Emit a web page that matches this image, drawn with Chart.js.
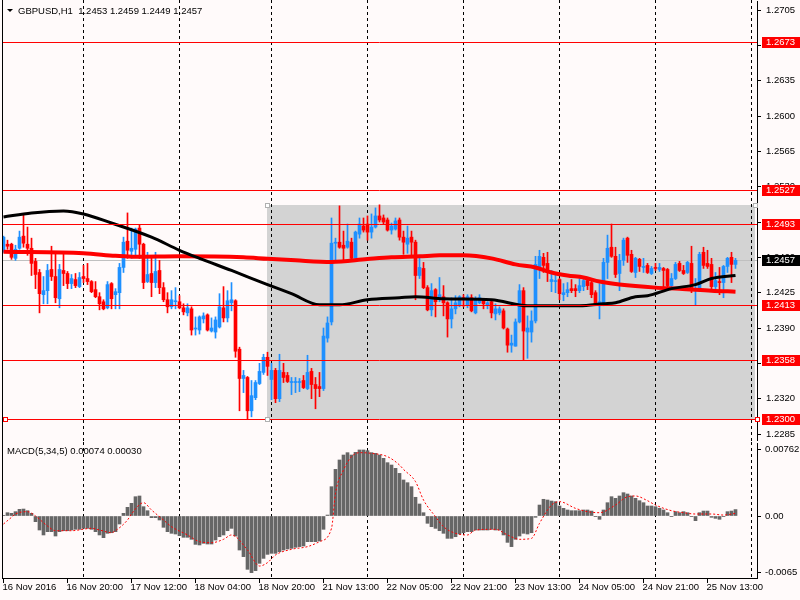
<!DOCTYPE html>
<html>
<head>
<meta charset="utf-8">
<script src="https://cdn.jsdelivr.net/npm/chart.js@4.4.1/dist/chart.umd.min.js"></script>
<style>
  html, body { margin: 0; padding: 0; background: #fffafa; }
  #wrap { position: relative; width: 800px; height: 600px; overflow: hidden; background: #fffafa; }
  #main { position: absolute; left: 0; top: 0; }
  #macd { position: absolute; left: 0; top: 442px; }
</style>
</head>
<body>
<div id="wrap">
  <canvas id="main" width="800" height="442"></canvas>
  <canvas id="macd" width="800" height="158"></canvas>
</div>
<script>
// GBPUSD H1, bar 0 = 16 Nov 2016 04:00 ... bar 183 = 25 Nov 20:00
const opens = [1.2466,1.2473,1.2473,1.2459,1.2469,1.2481,1.2473,1.2469,1.2456,1.2445,
  1.2423,1.2427,1.2448,1.2441,1.2419,1.2447,1.2444,1.2434,1.2438,1.2431,
  1.2441,1.2439,1.2436,1.2428,1.2421,1.2416,1.2410,1.2434,1.2423,1.2425,
  1.2450,1.2476,1.2466,1.2468,1.2489,1.2473,1.2436,1.2444,1.2435,1.2447,
  1.2430,1.2418,1.2411,1.2416,1.2416,1.2410,1.2405,1.2409,1.2389,1.2388,
  1.2399,1.2403,1.2387,1.2386,1.2391,1.2410,1.2400,1.2415,1.2417,1.2369,
  1.2340,1.2341,1.2308,1.2321,1.2335,1.2346,1.2361,1.2339,1.2348,1.2320,
  1.2346,1.2343,1.2336,1.2336,1.2336,1.2338,1.2330,1.2347,1.2334,1.2332,
  1.2330,1.2380,1.2396,1.2474,1.2475,1.2472,1.2470,1.2475,1.2459,1.2483,
  1.2491,1.2493,1.2485,1.2490,1.2501,1.2499,1.2497,1.2487,1.2488,1.2497,
  1.2480,1.2473,1.2480,1.2475,1.2442,1.2449,1.2430,1.2408,1.2428,1.2418,
  1.2421,1.2415,1.2399,1.2409,1.2412,1.2420,1.2413,1.2420,1.2405,1.2415,
  1.2419,1.2413,1.2416,1.2404,1.2405,1.2407,1.2389,1.2373,1.2372,1.2396,
  1.2427,1.2386,1.2386,1.2397,1.2450,1.2460,1.2454,1.2436,1.2436,1.2438,
  1.2423,1.2425,1.2429,1.2429,1.2427,1.2431,1.2437,1.2435,1.2425,1.2412,
  1.2413,1.2455,1.2470,1.2461,1.2444,1.2457,1.2479,1.2463,1.2445,1.2458,
  1.2450,1.2452,1.2444,1.2450,1.2448,1.2449,1.2448,1.2432,1.2439,1.2454,
  1.2447,1.2445,1.2454,1.2427,1.2427,1.2465,1.2454,1.2453,1.2431,1.2436,
  1.2435,1.2451,1.2460,1.2453];
const highs = [1.2481,1.2477,1.2474,1.2472,1.2486,1.2503,1.2490,1.2479,1.2459,1.2448,
  1.2441,1.2453,1.2471,1.2465,1.2453,1.2464,1.2446,1.2443,1.2444,1.2445,
  1.2452,1.2454,1.2437,1.2436,1.2425,1.2418,1.2436,1.2435,1.2429,1.2454,
  1.2480,1.2504,1.2489,1.2489,1.2492,1.2474,1.2465,1.2462,1.2465,1.2457,
  1.2435,1.2425,1.2427,1.2430,1.2422,1.2414,1.2414,1.2411,1.2401,1.2402,
  1.2405,1.2404,1.2400,1.2401,1.2424,1.2431,1.2427,1.2435,1.2418,1.2371,
  1.2348,1.2342,1.2338,1.2338,1.2355,1.2364,1.2366,1.2355,1.2350,1.2364,
  1.2355,1.2346,1.2341,1.2341,1.2340,1.2343,1.2363,1.2350,1.2341,1.2346,
  1.2390,1.2401,1.2499,1.2479,1.2511,1.2486,1.2493,1.2479,1.2486,1.2499,
  1.2499,1.2501,1.2503,1.2509,1.2512,1.2502,1.2499,1.2494,1.2499,1.2499,
  1.2486,1.2491,1.2486,1.2477,1.2460,1.2455,1.2432,1.2434,1.2429,1.2440,
  1.2432,1.2416,1.2420,1.2422,1.2422,1.2423,1.2423,1.2423,1.2421,1.2423,
  1.2419,1.2416,1.2417,1.2414,1.2411,1.2409,1.2390,1.2383,1.2399,1.2433,
  1.2430,1.2402,1.2407,1.2461,1.2467,1.2464,1.2465,1.2447,1.2443,1.2439,
  1.2434,1.2435,1.2438,1.2433,1.2439,1.2440,1.2439,1.2437,1.2427,1.2434,
  1.2459,1.2482,1.2493,1.2470,1.2463,1.2479,1.2480,1.2467,1.2460,1.2459,
  1.2459,1.2454,1.2451,1.2454,1.2454,1.2450,1.2449,1.2444,1.2455,1.2456,
  1.2452,1.2456,1.2471,1.2439,1.2465,1.2470,1.2467,1.2459,1.2445,1.2450,
  1.2452,1.2460,1.2465,1.2459];
const lows = [1.2465,1.2468,1.2458,1.2457,1.2468,1.2470,1.2462,1.2442,1.2429,1.2405,
  1.2414,1.2414,1.2437,1.2415,1.2410,1.2432,1.2429,1.2429,1.2430,1.2430,
  1.2435,1.2433,1.2425,1.2420,1.2408,1.2408,1.2409,1.2409,1.2409,1.2409,
  1.2445,1.2459,1.2459,1.2462,1.2459,1.2429,1.2435,1.2421,1.2430,1.2424,
  1.2416,1.2405,1.2409,1.2409,1.2409,1.2403,1.2402,1.2383,1.2383,1.2384,
  1.2395,1.2387,1.2386,1.2380,1.2390,1.2396,1.2396,1.2407,1.2361,1.2308,
  1.2326,1.2300,1.2302,1.2319,1.2334,1.2344,1.2343,1.2319,1.2316,1.2317,
  1.2336,1.2336,1.2324,1.2326,1.2327,1.2330,1.2329,1.2320,1.2310,1.2322,
  1.2328,1.2376,1.2393,1.2455,1.2469,1.2456,1.2469,1.2457,1.2458,1.2479,
  1.2485,1.2477,1.2479,1.2489,1.2495,1.2493,1.2486,1.2483,1.2487,1.2477,
  1.2463,1.2464,1.2462,1.2418,1.2439,1.2429,1.2407,1.2402,1.2401,1.2416,
  1.2402,1.2381,1.2390,1.2404,1.2411,1.2411,1.2410,1.2406,1.2404,1.2414,
  1.2409,1.2409,1.2400,1.2398,1.2403,1.2389,1.2366,1.2366,1.2372,1.2395,
  1.2358,1.2360,1.2376,1.2395,1.2439,1.2445,1.2436,1.2426,1.2425,1.2418,
  1.2417,1.2421,1.2425,1.2421,1.2425,1.2427,1.2428,1.2420,1.2412,1.2399,
  1.2412,1.2439,1.2460,1.2440,1.2427,1.2452,1.2455,1.2445,1.2440,1.2446,
  1.2445,1.2444,1.2443,1.2447,1.2446,1.2431,1.2430,1.2430,1.2438,1.2446,
  1.2443,1.2444,1.2425,1.2413,1.2426,1.2449,1.2449,1.2429,1.2425,1.2423,
  1.2420,1.2445,1.2435,1.2449];
const closes = [1.2480,1.2471,1.2460,1.2468,1.2480,1.2474,1.2469,1.2454,1.2443,1.2424,
  1.2427,1.2447,1.2441,1.2420,1.2448,1.2444,1.2434,1.2439,1.2432,1.2440,
  1.2439,1.2436,1.2426,1.2421,1.2414,1.2409,1.2433,1.2419,1.2426,1.2450,
  1.2475,1.2467,1.2469,1.2488,1.2473,1.2435,1.2443,1.2435,1.2446,1.2430,
  1.2418,1.2411,1.2418,1.2417,1.2410,1.2406,1.2410,1.2388,1.2390,1.2401,
  1.2402,1.2388,1.2390,1.2398,1.2411,1.2400,1.2417,1.2418,1.2367,1.2340,
  1.2343,1.2308,1.2323,1.2336,1.2347,1.2361,1.2352,1.2348,1.2320,1.2348,
  1.2341,1.2337,1.2337,1.2337,1.2337,1.2331,1.2346,1.2334,1.2330,1.2330,
  1.2382,1.2395,1.2474,1.2475,1.2470,1.2469,1.2476,1.2459,1.2485,1.2493,
  1.2487,1.2485,1.2490,1.2501,1.2497,1.2495,1.2487,1.2491,1.2496,1.2480,
  1.2475,1.2479,1.2475,1.2442,1.2450,1.2430,1.2408,1.2427,1.2416,1.2423,
  1.2415,1.2399,1.2409,1.2415,1.2421,1.2418,1.2421,1.2407,1.2419,1.2420,
  1.2414,1.2415,1.2405,1.2409,1.2409,1.2390,1.2373,1.2375,1.2396,1.2427,
  1.2387,1.2390,1.2397,1.2453,1.2461,1.2452,1.2445,1.2438,1.2437,1.2424,
  1.2425,1.2428,1.2427,1.2427,1.2432,1.2437,1.2432,1.2423,1.2413,1.2416,
  1.2455,1.2469,1.2461,1.2443,1.2457,1.2477,1.2462,1.2446,1.2459,1.2451,
  1.2451,1.2445,1.2449,1.2449,1.2450,1.2447,1.2432,1.2439,1.2453,1.2447,
  1.2444,1.2455,1.2427,1.2428,1.2463,1.2452,1.2451,1.2431,1.2437,1.2435,
  1.2451,1.2459,1.2453,1.2457];

// moving averages, read at sample bars
const maRedBars = [0,20,28,33,44,60,66,73,82,91,97,104,109,115,122,128,133,137,141,145,149,154,163,169,177,183];
const maRedValues = [1.24655,1.2464,1.24615,1.24605,1.2461,1.2460,1.24585,1.2457,1.24555,1.24583,1.2460,1.2461,1.2462,1.2462,1.2459,1.2453,1.2450,1.2445,1.2442,1.2440,1.2436,1.2433,1.2430,1.2429,1.2427,1.2426];
const maBlackBars = [0,7,15,20,27,37,44,49,57,66,72,79,84,91,99,103,110,122,131,144,150,153,158,161,167,173,177,183];
const maBlackValues = [1.2500,1.2504,1.2506,1.2503,1.2494,1.2480,1.2467,1.2459,1.2447,1.2433,1.2424,1.2413,1.2413,1.2418,1.2420,1.2421,1.2419,1.2418,1.2412,1.2412,1.2414,1.2415,1.2421,1.2422,1.2429,1.2433,1.2439,1.2442];

// MACD(5,34,5)
const macdHist = [0.00008,0.00038,0.00031,0.00050,0.00077,0.00080,0.00061,0.00031,-0.00065,-0.00161,
  -0.00218,-0.00180,-0.00180,-0.00230,-0.00180,-0.00169,-0.00169,-0.00161,-0.00153,-0.00153,
  -0.00142,-0.00142,-0.00153,-0.00180,-0.00218,-0.00249,-0.00199,-0.00192,-0.00180,-0.00092,
  0.00031,0.00100,0.00146,0.00222,0.00230,0.00107,0.00061,-0.00019,-0.00019,-0.00046,
  -0.00130,-0.00180,-0.00199,-0.00207,-0.00226,-0.00245,-0.00245,-0.00268,-0.00326,-0.00333,
  -0.00314,-0.00322,-0.00322,-0.00276,-0.00238,-0.00218,-0.00169,-0.00142,-0.00230,-0.00391,
  -0.00467,-0.00613,-0.00651,-0.00628,-0.00544,-0.00487,-0.00441,-0.00429,-0.00429,-0.00410,
  -0.00391,-0.00379,-0.00372,-0.00360,-0.00352,-0.00345,-0.00295,-0.00295,-0.00295,-0.00287,
  -0.00153,0.00011,0.00337,0.00536,0.00644,0.00701,0.00728,0.00701,0.00732,0.00759,
  0.00759,0.00751,0.00728,0.00720,0.00701,0.00663,0.00613,0.00586,0.00548,0.00490,
  0.00414,0.00383,0.00337,0.00215,0.00138,0.00038,-0.00084,-0.00123,-0.00142,-0.00169,
  -0.00199,-0.00257,-0.00257,-0.00238,-0.00207,-0.00192,-0.00180,-0.00180,-0.00161,-0.00161,
  -0.00161,-0.00161,-0.00153,-0.00161,-0.00161,-0.00218,-0.00303,-0.00352,-0.00268,-0.00230,
  -0.00199,-0.00207,-0.00192,-0.00015,0.00126,0.00192,0.00184,0.00172,0.00165,0.00115,
  0.00088,0.00069,0.00061,0.00061,0.00061,0.00069,0.00069,0.00057,-0.00008,-0.00038,
  0.00069,0.00153,0.00222,0.00203,0.00230,0.00268,0.00253,0.00230,0.00203,0.00176,
  0.00153,0.00115,0.00115,0.00107,0.00088,0.00069,0.00038,-0.00008,0.00050,0.00038,
  0.00050,0.00038,-0.00008,-0.00054,0.00038,0.00057,0.00057,-0.00015,-0.00027,-0.00038,
  -0.00008,0.00050,0.00057,0.00074];
const macdSignalBars = [0,2,3,6,8,11,13,17,22,24,27,28,31,32,35,37,40,42,46,49,52,55,57,61,64,66,68,72,76,79,
  82,83,85,87,89,92,96,99,100,103,105,108,110,113,116,118,123,126,129,132,134,137,139,143,146,149,153,156,158,161,
  163,167,170,173,177,180,183];
const macdSignalValues = [-0.00092,-0.00015,0.00023,0.00050,0,-0.00115,-0.00169,-0.00169,-0.00142,-0.00161,
  -0.00192,-0.00169,-0.00046,0.00023,0.00153,0.00069,-0.00046,-0.00123,-0.00218,-0.00295,
  -0.00307,-0.00268,-0.00218,-0.00391,-0.00575,-0.00536,-0.00448,-0.00383,-0.00352,-0.00295,
  -0.00142,0.00261,0.00529,0.00682,0.00728,0.00720,0.00682,0.00586,0.00536,0.00395,
  0.00184,-0.00008,-0.00123,-0.00199,-0.00218,-0.00161,-0.00153,-0.00218,-0.00268,-0.00257,
  -0.00084,0.00126,0.00165,0.00088,0.00050,0.00038,0.00126,0.00222,0.00230,0.00176,
  0.00126,0.00061,0.00038,0.00023,0.00023,0.00011,0.00030];

// axes, levels, objects
const priceTicks = [1.2705,1.2670,1.2635,1.2600,1.2565,1.2530,1.2495,1.2460,1.2425,1.2390,1.2355,1.2320,1.2285];
const macdTickValues = [0.00762, 0, -0.0065];
const macdTickLabels = ['0.00762', '0.00', '-0.0065'];
const timeTickBars = [0,16,32,48,64,80,96,112,128,144,160,176];
const timeTickLabels = ['16 Nov 2016','16 Nov 20:00','17 Nov 12:00','18 Nov 04:00','18 Nov 20:00','21 Nov 13:00',
  '22 Nov 05:00','22 Nov 21:00','23 Nov 13:00','24 Nov 05:00','24 Nov 21:00','25 Nov 13:00'];
const daySeparatorBars = [20,44,67,91,115,139,163,187];
const levelPrices = [1.2673, 1.2527, 1.2493, 1.2413, 1.2358, 1.2300];
const bidPrice = 1.2457;
const zoneBars = [65.9, 187.9];
const zonePrices = [1.2300, 1.2512];
const titleText = 'GBPUSD,H1  1.2453 1.2459 1.2449 1.2457';
const macdText = 'MACD(5,34,5) 0.00074 0.00030';

const FONT = '"Liberation Sans", Arial, sans-serif';
const FSIZE = 9.5;
const BULL = '#1e90ff', BEAR = '#ff0000';
const X_MIN = -0.375, X_MAX = 188.375;

const barIdx = opens.map((_, i) => i);
const candleColors = barIdx.map(i => closes[i] >= opens[i] ? BULL : BEAR);

function crisp(v) { return Math.round(v) + 0.5; }

function drawSeparators(ctx, x, y0, y1) {
  ctx.save();
  ctx.strokeStyle = '#000';
  ctx.lineWidth = 1;
  ctx.setLineDash([3, 3]);
  daySeparatorBars.forEach(b => {
    const px = Math.floor(x.getPixelForValue(b)) + 0.5;
    ctx.beginPath(); ctx.moveTo(px, y0); ctx.lineTo(px, y1); ctx.stroke();
  });
  ctx.restore();
}

function anchor(ctx, cx, cy, stroke) {
  ctx.fillStyle = '#fff';
  ctx.fillRect(Math.round(cx) - 2, Math.round(cy) - 2, 5, 5);
  ctx.strokeStyle = stroke;
  ctx.lineWidth = 1;
  ctx.strokeRect(Math.round(cx) - 1.5, Math.round(cy) - 1.5, 4, 4);
}

const mainOverlay = {
  id: 'mainOverlay',
  beforeDatasetsDraw(chart) {
    const { ctx, chartArea: a, scales: { x, y } } = chart;
    ctx.save();
    const zx0 = Math.round(x.getPixelForValue(zoneBars[0]));
    const zx1 = Math.round(x.getPixelForValue(zoneBars[1]));
    const zy0 = Math.round(y.getPixelForValue(zonePrices[1]));
    const zy1 = Math.round(y.getPixelForValue(zonePrices[0]));
    ctx.fillStyle = '#d3d3d3';
    ctx.fillRect(zx0, zy0, zx1 - zx0, zy1 - zy0);

    ctx.strokeStyle = '#c0c0c0';
    ctx.lineWidth = 1;
    const by = crisp(y.getPixelForValue(bidPrice));
    ctx.beginPath(); ctx.moveTo(a.left, by); ctx.lineTo(a.right, by); ctx.stroke();
    ctx.restore();
    drawSeparators(ctx, x, 0, chart.height);
  },
  afterDatasetsDraw(chart) {
    const { ctx, chartArea: a, scales: { x, y } } = chart;
    ctx.save();
    ctx.strokeStyle = '#ff0000';
    ctx.lineWidth = 1;
    levelPrices.forEach(p => {
      const ly = crisp(y.getPixelForValue(p));
      ctx.beginPath(); ctx.moveTo(a.left, ly); ctx.lineTo(a.right, ly); ctx.stroke();
    });
    // object anchors
    const zx0 = x.getPixelForValue(zoneBars[0]), zx1 = x.getPixelForValue(zoneBars[1]);
    const zy0 = y.getPixelForValue(zonePrices[1]), zy1 = y.getPixelForValue(zonePrices[0]);
    anchor(ctx, zx0, zy0, '#b0b0b0');
    anchor(ctx, zx0, zy1, '#b0b0b0');
    anchor(ctx, zx1, zy0, '#b0b0b0');
    const ly = y.getPixelForValue(levelPrices[levelPrices.length - 1]);
    anchor(ctx, a.left + 3, ly, '#ff0000');
    anchor(ctx, a.right, ly, '#ff0000');
    ctx.restore();
  },
  afterDraw(chart) {
    const { ctx, chartArea: a, scales: { y } } = chart;
    ctx.save();
    // left frame
    ctx.fillStyle = '#000';
    ctx.fillRect(2, 0, 1, chart.height);
    // price boxes on the axis
    ctx.font = FSIZE + 'px ' + FONT;
    ctx.textBaseline = 'middle';
    ctx.textAlign = 'left';
    const box = (p, bg) => {
      const cy = Math.round(y.getPixelForValue(p));
      ctx.fillStyle = bg;
      ctx.fillRect(a.right + 5, cy - 5, 800 - a.right - 5, 11);
      ctx.fillStyle = '#fff';
      ctx.fillText(p.toFixed(4), a.right + 9, cy + 0.5);
    };
    levelPrices.forEach(p => box(p, '#ff0000'));
    box(bidPrice, '#000');
    // title
    ctx.fillStyle = '#000';
    ctx.beginPath(); ctx.moveTo(7, 9); ctx.lineTo(13, 9); ctx.lineTo(10, 12); ctx.closePath(); ctx.fill();
    ctx.fillText(titleText, 18, 11);
    ctx.restore();
  }
};

new Chart(document.getElementById('main'), {
  type: 'bar',
  data: {
    datasets: [
      {
        type: 'line', label: 'MA black', order: 0,
        data: maBlackBars.map((b, i) => ({ x: b, y: maBlackValues[i] })),
        borderColor: '#000', borderWidth: 3, pointRadius: 0, cubicInterpolationMode: 'monotone'
      },
      {
        type: 'line', label: 'MA red', order: 1,
        data: maRedBars.map((b, i) => ({ x: b, y: maRedValues[i] })),
        borderColor: '#ff0000', borderWidth: 4, pointRadius: 0, cubicInterpolationMode: 'monotone'
      },
      {
        label: 'bodies', order: 2, grouped: false,
        data: barIdx.map(i => ({ x: i, y: [opens[i], closes[i]] })),
        backgroundColor: candleColors, barThickness: 3, minBarLength: 1, borderWidth: 0
      },
      {
        label: 'wicks', order: 3, grouped: false,
        data: barIdx.map(i => ({ x: i, y: [lows[i], highs[i]] })),
        backgroundColor: candleColors, barThickness: 1, borderWidth: 0
      }
    ]
  },
  options: {
    responsive: false,
    animation: false,
    events: [],
    layout: { padding: { left: 2, top: 1, right: 0, bottom: 2 } },
    plugins: { legend: { display: false }, tooltip: { enabled: false } },
    scales: {
      x: { type: 'linear', min: X_MIN, max: X_MAX, offset: false, display: false },
      y: {
        position: 'right',
        min: 1.227906, max: 1.271392,
        afterBuildTicks: s => { s.ticks = priceTicks.map(v => ({ value: v })); },
        afterFit: s => { s.width = 43; s.paddingTop = 0; s.paddingBottom = 0; },
        ticks: {
          autoSkip: false, padding: 5, color: '#000',
          font: { family: FONT, size: FSIZE },
          callback: v => Number(v).toFixed(4)
        },
        grid: { drawOnChartArea: false, drawTicks: true, tickLength: 4, color: '#000' },
        border: { display: true, color: '#000', width: 1 }
      }
    }
  },
  plugins: [mainOverlay]
});

const macdOverlay = {
  id: 'macdOverlay',
  beforeDatasetsDraw(chart) {
    drawSeparators(chart.ctx, chart.scales.x, 0, chart.chartArea.bottom);
  },
  afterDraw(chart) {
    const { ctx, chartArea: a, scales: { x } } = chart;
    ctx.save();
    ctx.fillStyle = '#000';
    ctx.fillRect(2, 0, 1, a.bottom);
    ctx.fillRect(2, a.bottom, a.right - 2, 1);
    ctx.font = FSIZE + 'px ' + FONT;
    ctx.textBaseline = 'middle';
    ctx.textAlign = 'left';
    ctx.fillText(macdText, 7, 9.5);
    timeTickBars.forEach((b, i) => {
      const px = Math.floor(x.getPixelForValue(b));
      ctx.fillRect(px, a.bottom + 1, 1, 4);
      ctx.fillText(timeTickLabels[i], px - 0.5, a.bottom + 9.5);
    });
    ctx.restore();
  }
};

new Chart(document.getElementById('macd'), {
  type: 'bar',
  data: {
    datasets: [
      {
        type: 'line', label: 'Signal', order: 0,
        data: macdSignalBars.map((b, i) => ({ x: b, y: macdSignalValues[i] })),
        borderColor: '#ff0000', borderWidth: 1, borderDash: [2, 2], pointRadius: 0,
        cubicInterpolationMode: 'monotone'
      },
      {
        label: 'MACD', order: 1, grouped: false,
        data: barIdx.map(i => ({ x: i, y: macdHist[i] })),
        backgroundColor: '#666666', barThickness: 3, borderWidth: 0
      }
    ]
  },
  options: {
    responsive: false,
    animation: false,
    events: [],
    layout: { padding: { left: 2, top: 1, right: 0, bottom: 22 } },
    plugins: { legend: { display: false }, tooltip: { enabled: false } },
    scales: {
      x: { type: 'linear', min: X_MIN, max: X_MAX, offset: false, display: false },
      y: {
        position: 'right',
        min: -0.007126, max: 0.008391,
        afterBuildTicks: s => { s.ticks = macdTickValues.map(v => ({ value: v })); },
        afterFit: s => { s.width = 43; s.paddingTop = 0; s.paddingBottom = 0; },
        ticks: {
          autoSkip: false, padding: 4, color: '#000',
          font: { family: FONT, size: FSIZE },
          callback: (v, i) => macdTickLabels[i]
        },
        grid: { drawOnChartArea: false, drawTicks: true, tickLength: 4, color: '#000' },
        border: { display: true, color: '#000', width: 1 }
      }
    }
  },
  plugins: [macdOverlay]
});
</script>
</body>
</html>
